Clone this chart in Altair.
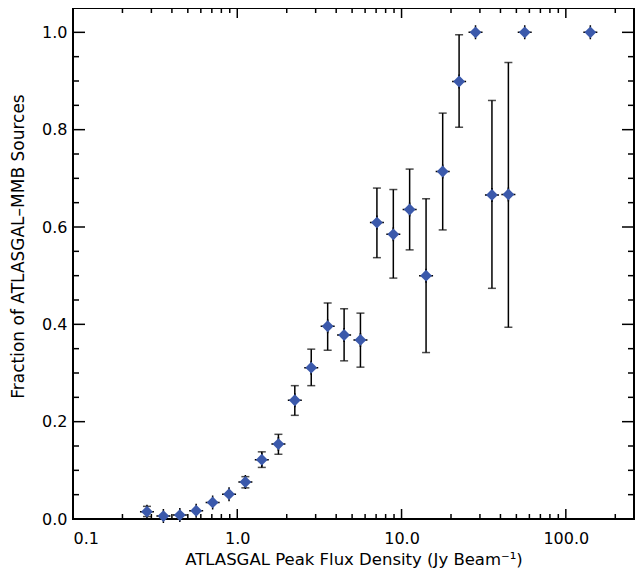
import altair as alt
import pandas as pd

# bin centres (Jy/beam) and fraction of ATLASGAL clumps with an MMB maser
flux = [0.282, 0.355, 0.447, 0.562, 0.708, 0.891, 1.12, 1.41, 1.78, 2.24,
        2.82, 3.55, 4.47, 5.62, 7.08, 8.91, 11.2, 14.1, 17.8, 22.4,
        28.2, 35.5, 44.7, 56.2, 141.0]
frac = [0.015, 0.006, 0.008, 0.017, 0.034, 0.051, 0.076, 0.122, 0.154, 0.244,
        0.311, 0.396, 0.378, 0.368, 0.609, 0.585, 0.636, 0.500, 0.714, 0.899,
        1.0, 0.666, 0.667, 1.0, 1.0]
# error bar ends (None = no bar drawn)
err_lo = [0.005, None, None, None, None, None, 0.064, 0.106, 0.133, 0.213,
          0.274, 0.347, 0.325, 0.312, 0.537, 0.495, 0.553, 0.342, 0.594, 0.805,
          None, 0.474, 0.394, None, None]
err_hi = [0.026, None, None, None, None, None, 0.087, 0.138, 0.174, 0.274,
          0.349, 0.444, 0.432, 0.423, 0.680, 0.677, 0.719, 0.658, 0.834, 0.995,
          None, 0.860, 0.938, None, None]

x_major = [0.1, 1, 10, 100]
x_minor = [0.2, 0.3, 0.4, 0.5, 0.6, 0.7, 0.8, 0.9,
           2, 3, 4, 5, 6, 7, 8, 9,
           20, 30, 40, 50, 60, 70, 80, 90, 200]
y_major = [0.0, 0.2, 0.4, 0.6, 0.8, 1.0]
y_minor = [0.05, 0.1, 0.15, 0.25, 0.3, 0.35, 0.45, 0.5, 0.55,
           0.65, 0.7, 0.75, 0.85, 0.9, 0.95]

W, H = 561, 511
FONT = "DejaVu Sans"

pts = pd.DataFrame({"flux": flux, "frac": frac})
errs = pd.DataFrame({"flux": flux, "lo": err_lo, "hi": err_hi}).dropna()

xscale = alt.Scale(type="log", domain=[0.1, 260], nice=False)
yscale = alt.Scale(domain=[0, 1.05], nice=False, zero=False)

# same axis object on every layer so the merged axis keeps its labels
xaxis = alt.Axis(values=x_major, ticks=False, domain=False, grid=False,
                 labelExpr="datum.value < 0.5 ? '0.1' : format(datum.value, '.1f')",
                 labelBaseline="alphabetic", labelPadding=24,
                 title="ATLASGAL Peak Flux Density (Jy Beam⁻¹)",
                 titleBaseline="alphabetic", titleY=45, titleFontSize=16.5)
yaxis = alt.Axis(values=y_major, format=".1f", ticks=False, domain=False,
                 grid=False, labelPadding=6,
                 title="Fraction of ATLASGAL–MMB Sources",
                 titleAngle=270, titleBaseline="middle",
                 titleX=-55, titleY=238)

X = lambda f: alt.X(f, scale=xscale, axis=xaxis)
Y = lambda f: alt.Y(f, scale=yscale, axis=yaxis)

base = alt.Chart(pts)

bars = alt.Chart(errs).mark_rule(color="black", strokeWidth=1.5).encode(
    x=X("flux:Q"), y=Y("lo:Q"), y2="hi:Q",
)
caps_lo = alt.Chart(errs).mark_tick(color="black", orient="horizontal", size=8, thickness=1.5).encode(
    x=X("flux:Q"), y=Y("lo:Q"),
)
caps_hi = alt.Chart(errs).mark_tick(color="black", orient="horizontal", size=8, thickness=1.5).encode(
    x=X("flux:Q"), y=Y("hi:Q"),
)
plus = base.mark_point(shape="M-1,0H1M0,-1V1", size=196, filled=False,
                       stroke="black", strokeWidth=1.5, opacity=1).encode(
    x=X("flux:Q"), y=Y("frac:Q"),
)
diamonds = base.mark_point(shape="diamond", size=140, filled=True,
                           color="#3B59AB", opacity=1).encode(
    x=X("flux:Q"), y=Y("frac:Q"),
)


def xticks(vals, length):
    d = pd.DataFrame({"v": vals})
    bot = alt.Chart(d).mark_rule(color="black", strokeWidth=1.5).encode(
        x=X("v:Q"), y=alt.value(H), y2=alt.value(H - length))
    top = alt.Chart(d).mark_rule(color="black", strokeWidth=1.5).encode(
        x=X("v:Q"), y=alt.value(0), y2=alt.value(length))
    return bot + top


def yticks(vals, length):
    d = pd.DataFrame({"v": vals})
    left = alt.Chart(d).mark_rule(color="black", strokeWidth=1.5).encode(
        y=Y("v:Q"), x=alt.value(0), x2=alt.value(length))
    right = alt.Chart(d).mark_rule(color="black", strokeWidth=1.5).encode(
        y=Y("v:Q"), x=alt.value(W), x2=alt.value(W - length))
    return left + right


chart = alt.layer(
    bars, caps_lo, caps_hi, plus, diamonds,
    xticks(x_major, 10), xticks(x_minor, 5),
    yticks(y_major, 12), yticks(y_minor, 6),
).properties(
    width=W, height=H,
    autosize=alt.AutoSizeParams(type="none"),
    padding={"left": 65, "top": 0, "right": 1, "bottom": 49},
).configure_view(
    stroke="black", strokeWidth=2
).configure_axis(
    labelFont=FONT, labelFontSize=16, labelColor="black",
    titleFont=FONT, titleFontSize=17, titleFontWeight="normal", titleColor="black",
)

chart.save("out.html", embed_options={"renderer": "svg", "actions": False})
